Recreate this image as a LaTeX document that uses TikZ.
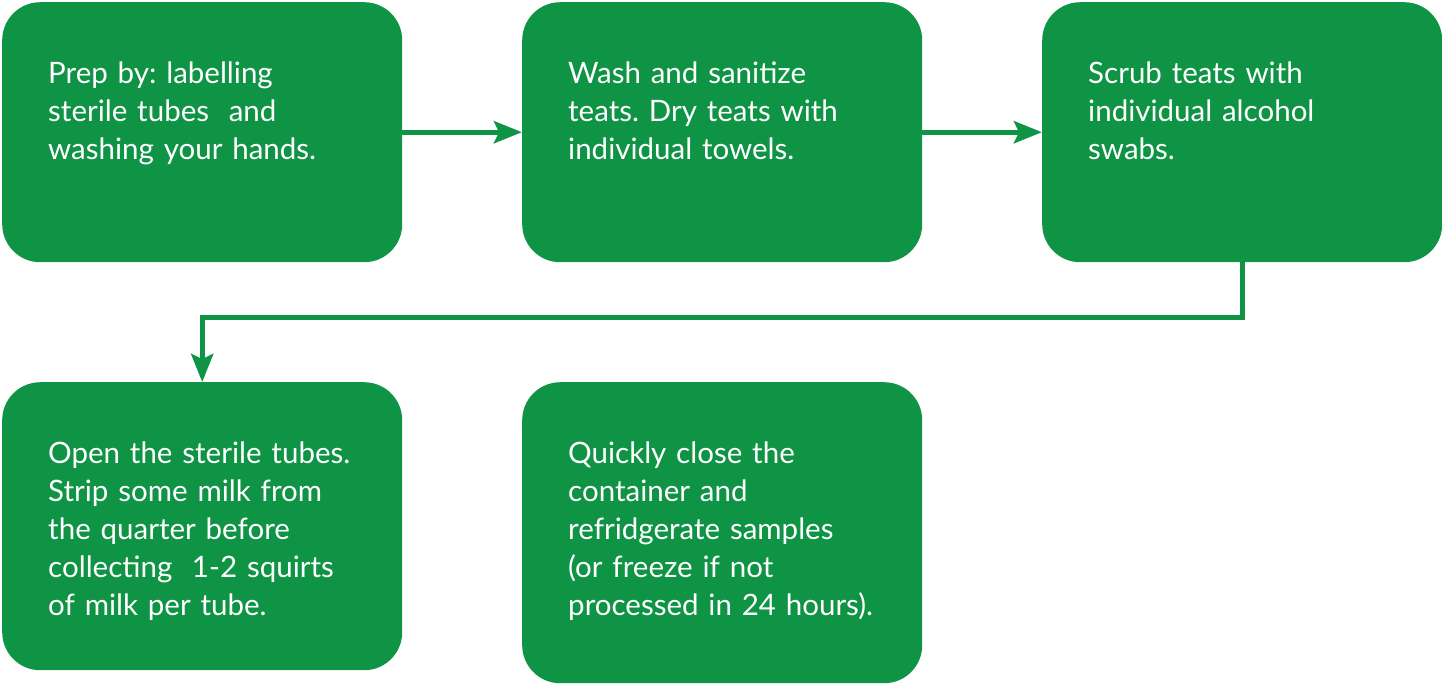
\documentclass[tikz,border=0pt]{standalone}
\usepackage{fontspec}
\setmainfont{Lato}
\usetikzlibrary{arrows.meta}
\definecolor{stepgreen}{RGB}{14,148,68}

\begin{document}
\begin{tikzpicture}[x=1pt,y=-1pt,
  stepbox/.style={rectangle, rounded corners=38pt, fill=stepgreen, text=white,
    font=\fontsize{29.5pt}{38pt}\selectfont\frenchspacing, align=left, anchor=north west,
    inner xsep=46pt, inner ysep=0pt, text width=308pt, minimum width=400pt,
    text height=81pt},
  flow/.style={draw=stepgreen, line width=5pt,
    -{Stealth[length=28pt,width=22pt,inset=5pt]}}]
\useasboundingbox (0,0) rectangle (1442,683);
\node[stepbox, text depth=179pt] (prep) at (2,2)
  {Prep by: labelling\\sterile tubes\ \ and\\washing your hands.};
\node[stepbox, text depth=179pt] (wash) at (522,2)
  {Wash and sanitize\\teats. Dry teats with\\individual towels.};
\node[stepbox, text depth=179pt] (scrub) at (1042,2)
  {Scrub teats with\\individual alcohol\\swabs.};
\node[stepbox, text depth=207pt] (strip) at (2,382)
  {Open the sterile tubes.\\Strip some milk from\\the quarter before\\collecting\ \ 1-2 squirts\\of milk per tube.};
\node[stepbox, text depth=220pt] (close) at (522,382)
  {Quickly close the\\container and\\refridgerate samples\\(or freeze if not\\processed in 24 hours).};
\draw[flow] (prep.east) -- (wash.west);
\draw[flow] (wash.east) -- (scrub.west);
\draw[flow] (scrub.south) -- ++(0,55) -| (strip.north);
\end{tikzpicture}
\end{document}
